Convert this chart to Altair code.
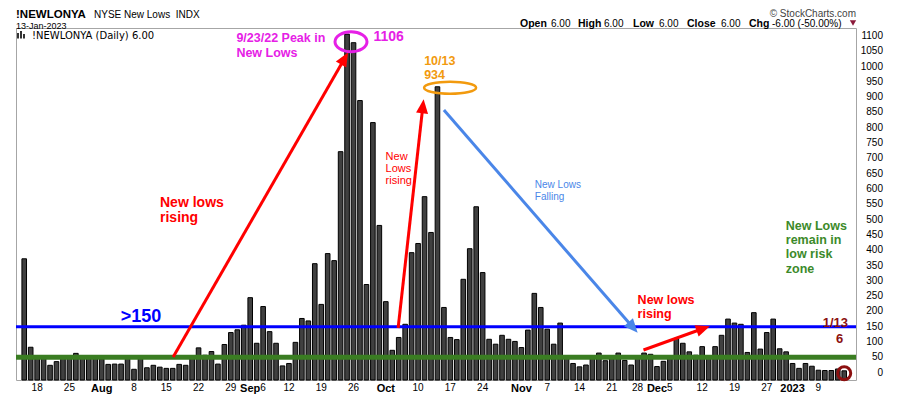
import math
import altair as alt
import pandas as pd

# ---------------- data ----------------
holidays = ["2022-09-05", "2022-11-24", "2022-12-26", "2023-01-02"]
dates = [d for d in pd.bdate_range("2022-07-14", "2023-01-13").strftime("%Y-%m-%d") if d not in holidays]

values = [372, 83, 48, 46, 24, 36, 47, 50, 63, 48, 46, 50,
          45, 27, 28, 28, 50, 11, 48, 16, 24, 18, 14, 14, 27, 24, 46, 81, 57, 69, 28, 92, 131, 140, 155,
          245, 96, 216, 134, 96, 22, 30, 99, 177, 169, 356, 223, 389, 366, 722, 1106, 1078, 889, 288, 817, 481,
          232, 73, 115, 158, 392, 422, 575, 458, 934, 213, 115, 108, 305, 405, 542, 327, 109, 93, 122, 109, 102,
          82, 139, 259, 213, 142, 93, 162, 47, 30, 19, 25, 48, 64, 39, 46, 64, 40, 25, 47, 64, 60,
          20, 37, 48, 112, 96, 68, 57, 85, 48, 85, 122, 175, 162, 158, 66, 196, 77, 131, 175, 78, 68,
          30, 14, 30, 21, 8, 7, 7, 12, 6]
assert len(dates) == len(values)

tick_dates = ["2022-07-18", "2022-07-25", "2022-08-01", "2022-08-08", "2022-08-15", "2022-08-22",
              "2022-08-29", "2022-09-01", "2022-09-06", "2022-09-12", "2022-09-19", "2022-09-26",
              "2022-10-03", "2022-10-10", "2022-10-17", "2022-10-24", "2022-11-01", "2022-11-07",
              "2022-11-14", "2022-11-21", "2022-11-28", "2022-12-01", "2022-12-05", "2022-12-12",
              "2022-12-19", "2022-12-27", "2023-01-03", "2023-01-09"]
tick_labels = ["18", "25", "Aug", "8", "15", "22", "29", "Sep", "6", "12", "19", "26",
               "Oct", "10", "17", "24", "Nov", "7", "14", "21", "28", "Dec", "5", "12",
               "19", "27", "2023", "9"]
month_labels = ["Aug", "Sep", "Oct", "Nov", "Dec", "2023"]
y_ticks = list(range(0, 1101, 50))

df = pd.DataFrame({"idx": list(range(len(values))), "date": dates, "value": values})
tick_idx = [dates.index(d) for d in tick_dates]
month_idx = [i for i, l in zip(tick_idx, tick_labels) if l in month_labels]
xlab = pd.DataFrame({"idx": tick_idx, "label": tick_labels,
                     "month": [l in month_labels for l in tick_labels]})
ylab = pd.DataFrame({"v": y_ticks})

# ---------------- scales ----------------
XMIN, XMAX, W = -0.5, 128.05, 840
YMIN, YMAX, H = -24, 1126, 352


def px(i):
    return (i - XMIN) / (XMAX - XMIN) * W


def py(v):
    return (YMAX - v) / (YMAX - YMIN) * H


def inv_x(p):
    return XMIN + p / W * (XMAX - XMIN)


def inv_y(p):
    return YMAX - p / H * (YMAX - YMIN)


one = pd.DataFrame({"a": [0]})
FONT = "Liberation Sans"

month_test = "indexof([" + ",".join(str(i) for i in month_idx) + "], datum.value) >= 0"
xscale = alt.Scale(domain=[XMIN, XMAX], nice=False, zero=False)
yscale = alt.Scale(domain=[YMIN, YMAX], nice=False, zero=False)

x_enc = alt.X("idx:Q", scale=xscale,
              axis=alt.Axis(values=tick_idx, labels=False, title=None, grid=True,
                            gridColor={"condition": {"test": month_test, "value": "#b4b4b4"}, "value": "#dcdcdc"},
                            domain=False, tickSize=3, tickColor="#999999"))
y_enc = alt.Y("value:Q", scale=yscale,
              axis=alt.Axis(orient="right", values=y_ticks, labels=False, title=None, grid=True,
                            gridColor="#e0e0e0", domain=False, tickSize=3, tickColor="#888888"))

bars = alt.Chart(df).mark_bar(size=4.6, fill="#404040", stroke="#000000", strokeWidth=1).encode(
    x=x_enc, y=y_enc, y2=alt.YDatum(YMIN))

# axis labels drawn as text through the scales
xlab_norm = alt.Chart(xlab).transform_filter("!datum.month").mark_text(
    baseline="top", fontSize=10, font=FONT, color="#000000").encode(
    x=alt.X("idx:Q", axis=None), y=alt.value(H + 3), text="label:N")
xlab_bold = alt.Chart(xlab).transform_filter("datum.month").mark_text(
    baseline="top", fontSize=11, fontWeight="bold", font=FONT, color="#000000").encode(
    x=alt.X("idx:Q", axis=None), y=alt.value(H + 3), text="label:N")
ylab_t = alt.Chart(ylab).mark_text(align="right", baseline="middle", fontSize=10, font=FONT,
                                  color="#000000").encode(
    x=alt.value(W + 27), y=alt.Y("v:Q", axis=None), text=alt.Text("v:Q", format="d"))


def XD(v):
    return alt.XDatum(v, axis=None)


def YD(v):
    return alt.YDatum(v, axis=None)


blue_line = alt.Chart(one).mark_rule(color="#0000ff", strokeWidth=3).encode(y=YD(150))
green_line = alt.Chart(one).mark_rule(color="#3a7d22", strokeWidth=5).encode(y=YD(50))


def arrow(x1, y1, x2, y2, color, width=3, head=14):
    ax, ay = px(x1), py(y1)
    bx, by = px(x2), py(y2)
    dx, dy = bx - ax, by - ay
    L = math.hypot(dx, dy)
    ux, uy = dx / L, dy / L
    r = head / 2
    cx, cy = bx - r * ux, by - r * uy
    ang = math.degrees(math.atan2(ux, -uy)) % 360
    line = alt.Chart(one).mark_rule(color=color, strokeWidth=width).encode(
        x=XD(x1), y=YD(y1), x2=alt.X2Datum(inv_x(cx)), y2=alt.Y2Datum(inv_y(cy)))
    hd = alt.Chart(one).mark_point(shape="M0,-1L0.86,1L-0.86,1Z", filled=True, size=head ** 2,
                                   angle=round(ang, 2), color=color, opacity=1, strokeWidth=0).encode(
        x=XD(inv_x(cx)), y=YD(inv_y(cy)))
    return [line, hd]


def ellipse(x, y, rx, ry, color, width):
    k = ry / rx
    c = 0.5523
    path = (f"M-1,0C-1,{-c*k:.4f} {-c},{-k:.4f} 0,{-k:.4f}C{c},{-k:.4f} 1,{-c*k:.4f} 1,0"
            f"C1,{c*k:.4f} {c},{k:.4f} 0,{k:.4f}C{-c},{k:.4f} -1,{c*k:.4f} -1,0Z")
    return alt.Chart(one).mark_point(shape=path, filled=False, size=(2 * rx) ** 2, color=color,
                                     strokeWidth=width, opacity=1).encode(x=XD(x), y=YD(y))


def dtext(lines, x, y, size, color, weight="bold", align="left", lh=None, font=FONT):
    kw = dict(text=lines, align=align, baseline="alphabetic", fontSize=size, fontWeight=weight,
              color=color, font=font)
    if lh is not None:
        kw["lineHeight"] = lh
    return alt.Chart(one).mark_text(**kw).encode(x=XD(x), y=YD(y))


def ptext(text, x, y, size, weight="normal", color="#000000", align="left", font=FONT):
    return alt.Chart(one).mark_text(text=text, align=align, baseline="alphabetic", fontSize=size,
                                    fontWeight=weight, color=color, font=font).encode(
        x=alt.value(x), y=alt.value(y))


RED = "#ff0000"
MAG = "#e620e6"
ORANGE = "#f29a0e"
CBLUE = "#4a86e8"
GREEN = "#3c8a2a"
DRED = "#8c1010"

layers = [bars, xlab_norm, xlab_bold, ylab_t, blue_line, green_line]
layers += arrow(23.07, 51, 50.15, 1046, RED)
layers += arrow(57.91, 146, 61.86, 893, RED)
layers += arrow(65.0, 858, 95.0, 130, CBLUE)
layers += arrow(95.91, 74, 106.17, 152, RED)
layers += [
    ellipse(50.61, 1081, 16, 10, MAG, 3),
    ellipse(65.96, 931, 26, 6, ORANGE, 2.5),
    alt.Chart(one).mark_point(shape="circle", filled=False, size=169, color=DRED, strokeWidth=3,
                              opacity=1).encode(x=XD(127), y=YD(-2)),
    dtext(["9/23/22 Peak in", "New Lows"], 32.86, 1081, 12.5, MAG, lh=15),
    dtext("1106", 54.09, 1084, 14, MAG),
    dtext(["10/13", "934"], 61.94, 1005, 12.5, ORANGE, lh=13.5),
    dtext(["New", "Lows", "rising"], 55.97, 696, 11, RED, weight="normal", lh=12),
    dtext(["New Lows", "Falling"], 79.08, 602, 10, CBLUE, weight="normal", lh=12),
    dtext(["New lows", "rising"], 21.03, 542, 14, RED, lh=15),
    dtext(">150", 14.96, 165, 18, "#0000ff"),
    dtext(["New lows", "rising"], 95.0, 224, 12.5, RED, lh=14),
    dtext(["New Lows", "remain in", "low risk", "zone"], 117.95, 466, 12.5, GREEN, lh=14.2),
    dtext("1/13", 127.59, 150, 13, DRED, align="right"),
    dtext("6", 126.83, 97, 13, DRED, align="right"),
    # header
    ptext("!NEWLONYA", 0, -9.8, 11.5, "bold"),
    ptext("NYSE New Lows\u00a0 INDX", 78, -9.8, 10),
    ptext("13-Jan-2023", 0, 0.6, 9),
    ptext("\u00a9 StockCharts.com", 840, -11, 10, color="#444444", align="right"),
    ptext("Open", 504, -1, 10.5, "bold"),
    ptext("6.00", 535, -1, 10),
    ptext("High", 562, -1, 10.5, "bold"),
    ptext("6.00", 588, -1, 10),
    ptext("Low", 617, -1, 10.5, "bold"),
    ptext("6.00", 643, -1, 10),
    ptext("Close", 671, -1, 10.5, "bold"),
    ptext("6.00", 705, -1, 10),
    ptext("Chg", 733, -1, 10.5, "bold"),
    ptext("-6.00 (-50.00%)", 756, -1, 10),
    alt.Chart(one).mark_point(shape="triangle-down", filled=True, size=40, color="#8b1a3a",
                              opacity=1).encode(x=alt.value(837), y=alt.value(-5)),
    # legend inside plot
    ptext("!NEWLONYA (Daily) 6.00", 16, 10.5, 10, font="DejaVu Sans"),
    alt.Chart(one).mark_rect(color="#333333").encode(x=alt.value(1), x2=alt.value(3), y=alt.value(5), y2=alt.value(10.5)),
    alt.Chart(one).mark_rect(color="#333333").encode(x=alt.value(4), x2=alt.value(6), y=alt.value(3), y2=alt.value(10.5)),
    alt.Chart(one).mark_rect(color="#333333").encode(x=alt.value(7), x2=alt.value(9), y=alt.value(6), y2=alt.value(10.5)),
]

chart = alt.layer(*layers).properties(
    width=W, height=H,
    padding={"left": 8, "top": 20, "right": 28, "bottom": 16},
    autosize=alt.AutoSizeParams(type="none"),
).configure_view(stroke="#a6a6a6", strokeWidth=1)

chart.save("out.html", embed_options={"renderer": "svg", "actions": False})
